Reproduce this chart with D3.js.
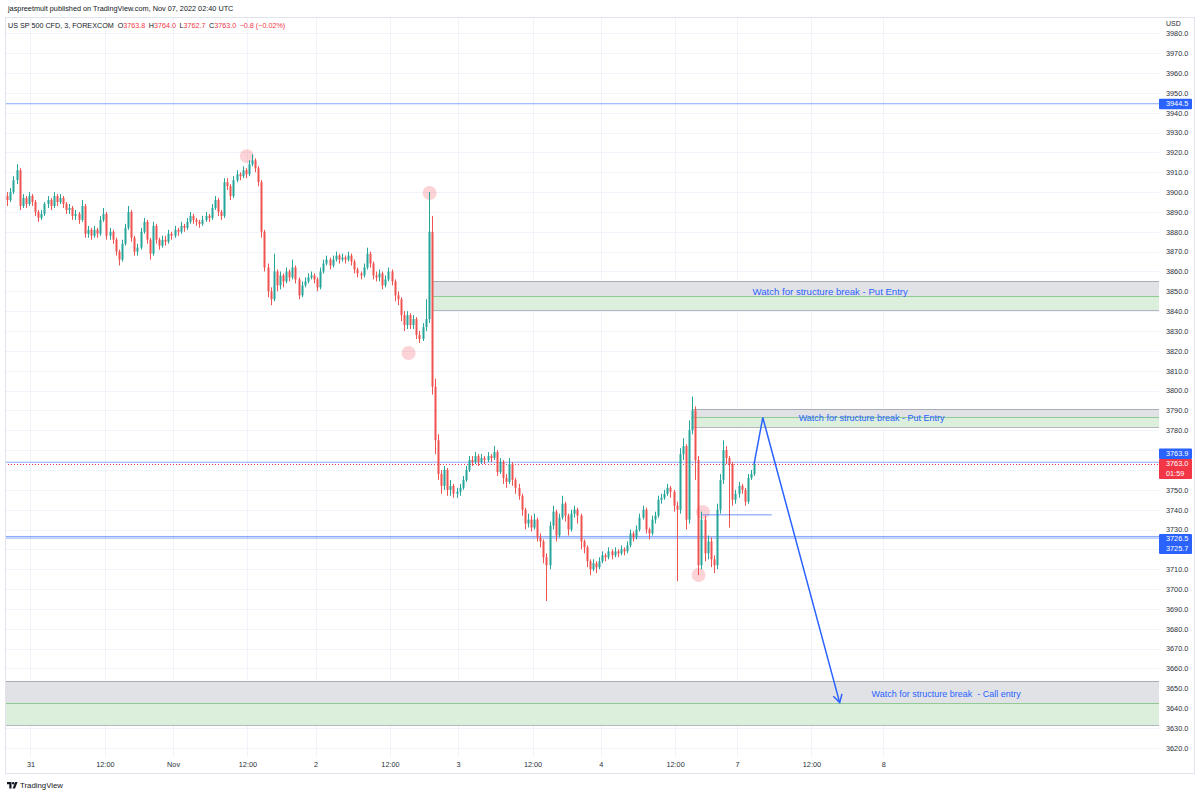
<!DOCTYPE html>
<html>
<head>
<meta charset="utf-8">
<script src="https://cdn.jsdelivr.net/npm/d3@7"></script>
<style>
  body { margin: 0; background: #fff; }
  svg { display: block; font-family: "Liberation Sans", Arial, sans-serif; }
</style>
</head>
<body>
<svg id="chart" width="1200" height="796"></svg>
<script>
// ---- data: US SP 500 CFD, 3, FOREXCOM ----
// time is in trading hours counted from Oct 31 00:00 UTC (weekend / daily break removed)
const barStart = -4;
const barStep = 0.5;
const firstOpen = 3898;
const closes = [
  3896,3900,3906,3911,3893,3897,3894,3898,3895,3890,
  3887,3889,3894,3896,3893,3898,3895,3897,3894,3891,
  3892,3888,3889,3886,3893,3879,3881,3878,3881,3879,
  3886,3889,3878,3880,3876,3870,3866,3874,3882,3890,
  3877,3870,3872,3880,3885,3876,3869,3883,3876,3873,
  3876,3875,3879,3878,3881,3880,3883,3882,3885,3888,
  3886,3885,3884,3886,3888,3887,3892,3896,3890,3888,
  3905,3903,3898,3906,3909,3908,3911,3909,3914,3916,
  3912,3905,3880,3862,3850,3846,3860,3853,3858,3855,
  3860,3857,3862,3856,3848,3853,3855,3857,3858,3856,
  3852,3860,3864,3866,3863,3866,3868,3866,3867,3866,
  3868,3865,3861,3859,3858,3862,3869,3864,3858,3857,
  3859,3853,3856,3860,3855,3848,3846,3838,3833,3838,
  3833,3836,3828,3826,3832,3836,3880,3802,3775,3758,
  3752,3760,3750,3752,3748,3749,3751,3755,3760,3765,
  3764,3767,3764,3766,3765,3767,3766,3769,3759,3764,
  3756,3754,3763,3755,3751,3747,3740,3733,3735,3731,
  3735,3726,3724,3716,3712,3732,3739,3727,3736,3743,
  3737,3730,3738,3740,3737,3724,3721,3714,3710,3713,
  3711,3714,3717,3716,3719,3717,3719,3718,3720,3719,
  3722,3728,3726,3730,3736,3740,3730,3728,3735,3737,
  3745,3746,3748,3751,3749,3742,3740,3768,3772,3735,
  3780,3790,3765,3712,3735,3718,3724,3715,3712,3740,
  3755,3770,3766,3763,3745,3748,3752,3750,3744,3756,
  3758,3763
];
const highs = [
  3900,3902,3908,3914,3912,3899,3898,3900,3899,3896,
  3891,3891,3895,3898,3897,3900,3899,3899,3898,3895,
  3894,3893,3891,3890,3896,3894,3883,3882,3883,3882,
  3888,3892,3890,3882,3881,3877,3871,3876,3884,3893,
  3891,3878,3874,3882,3887,3886,3877,3885,3884,3877,
  3878,3878,3881,3880,3883,3882,3885,3884,3887,3890,
  3889,3887,3886,3888,3890,3889,3894,3898,3897,3891,
  3907,3907,3904,3908,3911,3910,3913,3912,3916,3919,
  3917,3913,3906,3881,3864,3852,3869,3861,3860,3859,
  3862,3861,3866,3863,3857,3855,3857,3859,3860,3859,
  3857,3862,3866,3868,3867,3868,3870,3869,3869,3868,
  3870,3869,3866,3862,3860,3864,3872,3870,3865,3860,
  3861,3860,3858,3862,3861,3856,3850,3847,3840,3840,
  3839,3838,3837,3830,3834,3846,3900,3888,3806,3778,
  3760,3762,3761,3755,3753,3751,3753,3757,3762,3767,
  3767,3769,3768,3768,3767,3769,3768,3772,3770,3766,
  3765,3758,3766,3764,3756,3753,3748,3741,3738,3737,
  3738,3736,3728,3725,3718,3734,3742,3740,3738,3747,
  3744,3738,3740,3742,3741,3738,3725,3722,3715,3715,
  3714,3716,3719,3718,3721,3720,3721,3720,3722,3721,
  3724,3730,3729,3732,3738,3742,3741,3731,3737,3739,
  3747,3748,3750,3753,3752,3750,3744,3771,3776,3773,
  3785,3797,3792,3767,3739,3737,3727,3726,3717,3743,
  3758,3775,3772,3767,3764,3750,3754,3753,3751,3758,
  3760,3764
];
const lows = [
  3893,3895,3899,3904,3891,3892,3892,3893,3893,3888,
  3885,3886,3888,3892,3891,3892,3893,3894,3892,3889,
  3889,3886,3886,3884,3885,3877,3877,3876,3877,3877,
  3878,3885,3876,3876,3874,3868,3863,3865,3873,3881,
  3875,3868,3868,3871,3879,3874,3866,3868,3874,3871,
  3872,3873,3874,3876,3877,3878,3879,3880,3881,3884,
  3884,3883,3882,3883,3885,3885,3886,3891,3888,3886,
  3887,3901,3896,3897,3905,3906,3907,3907,3908,3913,
  3910,3903,3877,3860,3847,3843,3845,3850,3851,3852,
  3854,3855,3856,3854,3846,3847,3852,3854,3856,3854,
  3850,3851,3859,3863,3861,3862,3865,3864,3865,3864,
  3865,3863,3859,3857,3856,3857,3861,3862,3856,3855,
  3855,3851,3852,3855,3853,3845,3843,3835,3830,3831,
  3831,3831,3826,3824,3825,3830,3834,3798,3768,3755,
  3748,3750,3747,3747,3746,3746,3747,3750,3754,3759,
  3762,3763,3762,3763,3763,3764,3764,3765,3757,3758,
  3753,3751,3753,3752,3748,3745,3737,3730,3731,3729,
  3730,3724,3721,3713,3694,3710,3730,3724,3726,3735,
  3734,3727,3729,3736,3733,3720,3718,3711,3707,3709,
  3708,3710,3713,3714,3715,3715,3716,3716,3717,3717,
  3718,3721,3724,3725,3729,3735,3728,3725,3727,3733,
  3736,3743,3745,3747,3746,3739,3704,3738,3765,3730,
  3733,3778,3755,3707,3710,3714,3715,3711,3708,3710,
  3738,3753,3763,3731,3742,3743,3746,3748,3742,3743,
  3755,3757
];

const timeTicks = [0, 12, 23, 35, 46, 58, 69, 81, 92, 104, 114, 126, 137.6];
const timeLabels = ['31', '12:00', 'Nov', '12:00', '2', '12:00', '3', '12:00', '4', '12:00', '7', '12:00', '8'];
const priceTicks = [3620, 3630, 3640, 3650, 3660, 3670, 3680, 3690, 3700, 3710, 3720, 3730, 3740,
  3750, 3760, 3770, 3780, 3790, 3800, 3810, 3820, 3830, 3840, 3850, 3860, 3870, 3880, 3890,
  3900, 3910, 3920, 3930, 3940, 3950, 3960, 3970, 3980];

// drawings on the chart
const levelLines = [3944.5, 3763.9, 3726.5, 3725.7];
const lastPrice = 3763.0;
const lastCountdown = '01:59';
const zones = [            // [start, top, middle, bottom]
  [64.8, 3855.2, 3847.6, 3840.4],
  [106.7, 3790.7, 3786.6, 3781.6],
  [-4.2, 3653.6, 3642.6, 3631.5]
];
const zoneNotes = [
  'Watch for structure break - Put Entry',
  'Watch for structure break - Put Entry',
  'Watch for structure break  - Call entry'
];
const zoneNoteAt = [[116.5, 3849.6], [123.95, 3786.1], [135.7, 3646.6]];
const pivots = [[34.9, 3918.1], [64.4, 3899.5], [61.0, 3818.9], [107.8, 3707.1], [108.5, 3738.8]];
const shortLine = [[108.4, 3737.5], [119.6, 3737.5]];
const pathPoints = [[116.75, 3763.0], [118.15, 3786.4], [130.56, 3642.8]];

const publishedText = 'jaspreetmult published on TradingView.com, Nov 07, 2022 02:40 UTC';
const symbolText = 'US SP 500 CFD, 3, FOREXCOM';
const ohlcKeys = ['O', 'H', 'L', 'C'];
const ohlcValues = ['3763.8', '3764.0', '3762.7', '3763.0'];
const changeText = '\u22120.8 (\u22120.02%)';

// ---- layout ----
const plotLeft = 5, plotRight = 1159, plotTop = 17, plotBottom = 757;
const upColor = '#26a69a', downColor = '#ef5350', blue = '#2962ff', red = '#f23645';
const fmt = d3.format('.1f');

const svg = d3.select('#chart');
const x = d3.scaleLinear().domain([-4.113, 182.08]).range([plotLeft, plotRight]);
const y = d3.scaleLinear().domain([3615.4, 3988.2]).range([plotBottom, plotTop]);

svg.append('defs').append('clipPath').attr('id', 'plotClip')
  .append('rect')
  .attr('x', plotLeft).attr('y', plotTop)
  .attr('width', plotRight - plotLeft).attr('height', plotBottom - plotTop);

// grid
const grid = svg.append('g').attr('class', 'grid');
grid.selectAll('line.v').data(timeTicks).join('line')
  .attr('class', 'v')
  .attr('x1', d => Math.round(x(d)) + 0.5).attr('x2', d => Math.round(x(d)) + 0.5)
  .attr('y1', plotTop).attr('y2', plotBottom)
  .style('stroke', '#f0f3fa');
grid.selectAll('line.h').data(priceTicks).join('line')
  .attr('class', 'h')
  .attr('x1', plotLeft).attr('x2', plotRight)
  .attr('y1', d => Math.round(y(d)) + 0.5).attr('y2', d => Math.round(y(d)) + 0.5)
  .style('stroke', '#f0f3fa');

const plot = svg.append('g').attr('clip-path', 'url(#plotClip)');

// zones: grey upper band, green lower band
zones.forEach(function(z) {
  const x0 = Math.max(plotLeft, x(z[0]));
  plot.append('rect')
    .attr('x', x0).attr('y', y(z[1]))
    .attr('width', plotRight - x0).attr('height', y(z[2]) - y(z[1]))
    .style('fill', '#e1e2e6');
  plot.append('rect')
    .attr('x', x0).attr('y', y(z[2]))
    .attr('width', plotRight - x0).attr('height', y(z[3]) - y(z[2]))
    .style('fill', '#dcefdc');
  [[z[1], '#a9acb5'], [z[2], '#8fcb92'], [z[3], '#b4b7bf']].forEach(function(b) {
    plot.append('line')
      .attr('x1', x0).attr('x2', plotRight)
      .attr('y1', Math.round(y(b[0])) + 0.5).attr('y2', Math.round(y(b[0])) + 0.5)
      .style('stroke', b[1]).style('stroke-width', 1);
  });
  if (z[0] > -4) {
    plot.append('line')
      .attr('x1', Math.round(x0) + 0.5).attr('x2', Math.round(x0) + 0.5)
      .attr('y1', y(z[1])).attr('y2', y(z[3]))
      .style('stroke', '#b4b7bf');
  }
});

// horizontal levels
plot.selectAll('line.level').data(levelLines).join('line')
  .attr('class', 'level')
  .attr('x1', plotLeft).attr('x2', plotRight)
  .attr('y1', d => y(d)).attr('y2', d => y(d))
  .style('stroke', blue).style('stroke-opacity', 0.55).style('stroke-width', 1);

plot.append('line')
  .attr('x1', plotLeft).attr('x2', plotRight)
  .attr('y1', Math.round(y(lastPrice)) + 0.5).attr('y2', Math.round(y(lastPrice)) + 0.5)
  .style('stroke', red).style('stroke-width', 1).style('stroke-dasharray', '1 2');

// pivot markers
plot.selectAll('circle.pivot').data(pivots).join('circle')
  .attr('class', 'pivot')
  .attr('cx', d => x(d[0])).attr('cy', d => y(d[1]))
  .attr('r', 7)
  .style('fill', red).style('fill-opacity', 0.22);

// candles
const bars = closes.map(function(c, i) {
  return {
    t: barStart + barStep * i + barStep / 2,
    o: i === 0 ? firstOpen : closes[i - 1],
    h: highs[i], l: lows[i], c: c
  };
});
const candle = plot.append('g').selectAll('g').data(bars).join('g');
candle.append('line')
  .attr('x1', d => Math.round(x(d.t)) + 0.5).attr('x2', d => Math.round(x(d.t)) + 0.5)
  .attr('y1', d => y(d.h)).attr('y2', d => y(d.l))
  .style('stroke', d => d.c >= d.o ? upColor : downColor)
  .style('stroke-width', 1);
candle.append('rect')
  .attr('x', d => Math.round(x(d.t)) - 0.5)
  .attr('width', 2)
  .attr('y', d => y(Math.max(d.o, d.c)))
  .attr('height', d => Math.max(1, Math.abs(y(d.o) - y(d.c))))
  .style('fill', d => d.c >= d.o ? upColor : downColor);

// short level drawn on Friday
plot.append('line')
  .attr('x1', x(shortLine[0][0])).attr('x2', x(shortLine[1][0]))
  .attr('y1', y(shortLine[0][1])).attr('y2', y(shortLine[1][1]))
  .style('stroke', blue).style('stroke-opacity', 0.45).style('stroke-width', 1.5);

// projected path with arrow
const line = d3.line().x(d => x(d[0])).y(d => y(d[1]));
plot.append('path')
  .attr('d', line(pathPoints))
  .style('fill', 'none').style('stroke', blue).style('stroke-width', 1.5)
  .style('stroke-linejoin', 'miter');
(function drawArrowHead() {
  const a = pathPoints[pathPoints.length - 2], b = pathPoints[pathPoints.length - 1];
  const bx = x(b[0]), by = y(b[1]);
  const ang = Math.atan2(by - y(a[1]), bx - x(a[0]));
  const len = 9, spread = Math.PI / 6;
  const pts = [
    [bx - len * Math.cos(ang - spread), by - len * Math.sin(ang - spread)],
    [bx, by],
    [bx - len * Math.cos(ang + spread), by - len * Math.sin(ang + spread)]
  ];
  plot.append('path')
    .attr('d', d3.line()(pts))
    .style('fill', 'none').style('stroke', blue).style('stroke-width', 1.5);
})();

// zone notes
const noteSizes = [9.6, 9, 9];
plot.selectAll('text.note').data(zoneNotes).join('text')
  .attr('class', 'note')
  .attr('x', (d, i) => x(zoneNoteAt[i][0]))
  .attr('y', (d, i) => y(zoneNoteAt[i][1]))
  .attr('dominant-baseline', 'middle')
  .style('font-size', (d, i) => noteSizes[i] + 'px')
  .style('white-space', 'pre')
  .style('fill', blue)
  .text(d => d);

// price scale labels (boxes), computed first so the plain ticks under them can be hidden
const labelBoxes = [
  { lines: [fmt(levelLines[0])], top: y(levelLines[0]) - 5, color: blue },
  { lines: [fmt(levelLines[1])], top: y(lastPrice) - 15.5, color: blue },
  { lines: [fmt(lastPrice), lastCountdown], top: y(lastPrice) - 5, color: red },
  { lines: [fmt(levelLines[2]), fmt(levelLines[3])], top: y(levelLines[2]) - 2.5, color: blue }
];
labelBoxes.forEach(b => { b.height = b.lines.length * 9.5 + 1; });
function underBox(v) {
  const py = y(v);
  return labelBoxes.some(b => py > b.top - 2.5 && py < b.top + b.height + 2.5);
}

// axes
const priceAxis = svg.append('g')
  .attr('transform', 'translate(' + plotRight + ',0)')
  .call(d3.axisRight(y).tickValues(priceTicks.filter(v => !underBox(v)))
    .tickFormat(fmt).tickSize(0).tickPadding(7));
priceAxis.select('.domain').remove();
priceAxis.selectAll('text').style('font-size', '7.3px').style('fill', '#2a2e39')
  .style('font-family', '"Liberation Sans", Arial, sans-serif');

const timeAxis = svg.append('g')
  .attr('transform', 'translate(0,' + plotBottom + ')')
  .call(d3.axisBottom(x).tickValues(timeTicks).tickFormat((d, i) => timeLabels[i]).tickSize(0).tickPadding(5));
timeAxis.select('.domain').remove();
timeAxis.selectAll('text').style('font-size', '7.3px').style('fill', '#2a2e39')
  .style('font-family', '"Liberation Sans", Arial, sans-serif');

// currency caption over the top of the price scale
svg.append('rect').attr('x', plotRight + 1).attr('y', plotTop + 1).attr('width', 34).attr('height', 12)
  .style('fill', '#fff');
svg.append('text').attr('x', plotRight + 7).attr('y', 24)
  .attr('dominant-baseline', 'middle')
  .style('font-size', '7px').style('fill', '#2a2e39').text('USD');

labelBoxes.forEach(function(b) {
  svg.append('rect')
    .attr('x', plotRight).attr('y', b.top).attr('width', 33).attr('height', b.height)
    .attr('rx', 1).style('fill', b.color);
  b.lines.forEach(function(s, i) {
    svg.append('text')
      .attr('x', plotRight + 7).attr('y', b.top + 5.3 + i * 9.5)
      .attr('dominant-baseline', 'middle')
      .style('font-size', '7.3px').style('fill', '#fff').text(s);
  });
});

// frame
svg.append('rect')
  .attr('x', 5.5).attr('y', 17.5).attr('width', 1189).attr('height', 756)
  .style('fill', 'none').style('stroke', '#e0e3eb');

// header texts
svg.append('text').attr('x', 8).attr('y', 9)
  .attr('dominant-baseline', 'middle')
  .style('font-size', '7.3px').style('fill', '#131722').text(publishedText);

const legend = svg.append('text').attr('x', 8).attr('y', 26)
  .attr('dominant-baseline', 'middle')
  .style('font-size', '7.2px').style('fill', '#131722');
legend.append('tspan').text(symbolText);
ohlcKeys.forEach(function(k, i) {
  legend.append('tspan').attr('dx', i === 0 ? 4 : 3.5).style('fill', '#131722').text(k);
  legend.append('tspan').style('fill', red).text(ohlcValues[i]);
});
legend.append('tspan').attr('dx', 3.5).style('fill', red).text(changeText);

// TradingView mark
const logo = svg.append('g').attr('transform', 'translate(7,782)');
logo.append('path').attr('d', 'M0 0h4.5v6.5h-2.2v-4.3h-2.3z').style('fill', '#131722');
logo.append('circle').attr('cx', 6.2).attr('cy', 1.2).attr('r', 1.2).style('fill', '#131722');
logo.append('path').attr('d', 'M8.2 0h2.4l-2.6 6.5h-2.4z').style('fill', '#131722');
svg.append('text').attr('x', 20).attr('y', 786)
  .attr('dominant-baseline', 'middle')
  .style('font-size', '7.8px').style('fill', '#131722').text('TradingView');
</script>
</body>
</html>
